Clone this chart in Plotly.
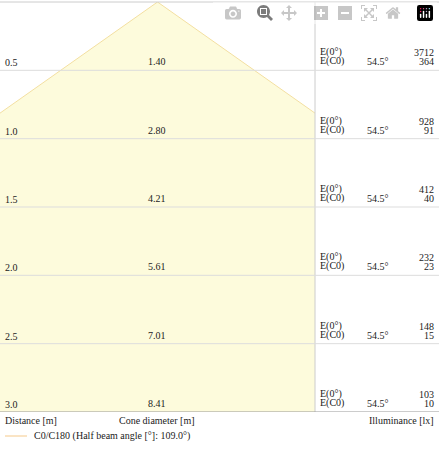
import math
import plotly.graph_objects as go

distances = [0.5, 1.0, 1.5, 2.0, 2.5, 3.0]
diameters = ["1.40", "2.80", "4.21", "5.61", "7.01", "8.41"]
e_center = [3712, 928, 412, 232, 148, 103]
e_c0 = [364, 91, 40, 23, 15, 10]
half_angle = 54.5
legend_label = "C0/C180 (Half beam angle [°]: 109.0°)"

W, H = 439, 450
top, bottom = 2, 412
split = 315
font = dict(family="Liberation Serif", size=10, color="#222")

def px(x):
    return x / W

def py(y):
    return (bottom - y) / (bottom - top)

halfw = 1.14
t = math.tan(math.radians(half_angle))
dedge = halfw / t
fill = "rgba(253,251,220,1)"
edge = "#f3dfa0"

fig = go.Figure()
fig.add_trace(go.Scatter(
    x=[0, halfw, halfw, -halfw, -halfw, 0],
    y=[0, dedge, 3.0, 3.0, dedge, 0],
    fill="toself", fillcolor=fill, mode="lines", line=dict(color=fill, width=0),
    hoverinfo="skip", showlegend=False))
fig.add_trace(go.Scatter(
    x=[-halfw, 0, halfw], y=[dedge, 0, dedge], mode="lines",
    line=dict(color=edge, width=1), hoverinfo="skip", showlegend=False))

shapes = []
ann = []
shapes.append(dict(type="line", xref="paper", yref="paper", x0=0, x1=1, y0=1, y1=1,
                   line=dict(color="#ccc", width=1)))
shapes.append(dict(type="line", xref="paper", yref="paper", x0=px(split), x1=px(split), y0=0, y1=1,
                   line=dict(color="#ccc", width=1)))
for i, d in enumerate(distances):
    col = "#999" if d == distances[-1] else "#ddd"
    shapes.append(dict(type="line", xref="paper", yref="y", x0=0, x1=1, y0=d, y1=d,
                       line=dict(color=col, width=1)))
    base = dict(yref="y", y=d, yanchor="bottom", showarrow=False, font=font, xref="paper")
    ann.append(dict(base, x=px(3), xanchor="left", text=f"{d:.1f}", yshift=0))
    ann.append(dict(base, x=px(157), xanchor="center", text=diameters[i], yshift=1))
    ann.append(dict(base, x=px(318), xanchor="left", text="E(0°)", yshift=10))
    ann.append(dict(base, x=px(318), xanchor="left", text="E(C0)", yshift=1))
    ann.append(dict(base, x=px(378), xanchor="center", text=f"{half_angle}°", yshift=1))
    ann.append(dict(base, x=px(436), xanchor="right", text=str(e_center[i]), yshift=10))
    ann.append(dict(base, x=px(436), xanchor="right", text=str(e_c0[i]), yshift=1))

lab = dict(xref="paper", yref="paper", y=py(420), yanchor="middle", showarrow=False, font=font)
ann.append(dict(lab, x=px(3), xanchor="left", text="Distance [m]"))
ann.append(dict(lab, x=px(157), xanchor="center", text="Cone diameter [m]"))
ann.append(dict(lab, x=px(436), xanchor="right", text="Illuminance [lx]"))
ann.append(dict(lab, y=py(436), x=px(32), xanchor="left", text=legend_label))
shapes.append(dict(type="line", xref="paper", yref="paper", x0=px(5), x1=px(27),
                   y0=py(436), y1=py(436), line=dict(color="#f5c98a", width=1)))

fig.update_layout(
    width=W, height=H, margin=dict(l=0, r=0, t=top, b=H - bottom),
    plot_bgcolor="white", paper_bgcolor="white", showlegend=False,
    xaxis=dict(domain=[0, split / W], range=[-halfw, halfw], visible=False),
    yaxis=dict(range=[3.0, 0], visible=False),
    shapes=shapes, annotations=ann)
fig.write_html("out.html")

# drop the default page margin so the figure fills the window
with open("out.html") as f:
    html = f.read()
html = html.replace("<head>", "<head><style>body{margin:0;overflow:hidden}</style>", 1)
with open("out.html", "w") as f:
    f.write(html)
